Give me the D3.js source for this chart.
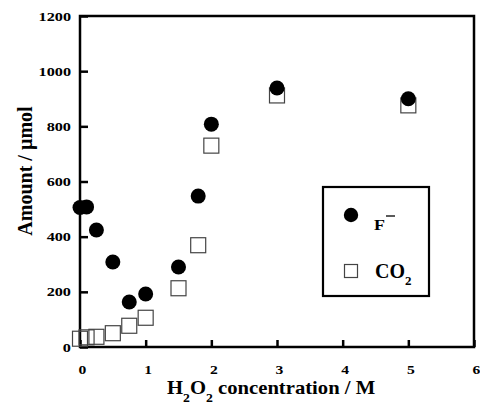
<!DOCTYPE html>
<html>
<head>
<meta charset="utf-8">
<script src="https://cdn.jsdelivr.net/npm/d3@7"></script>
<style>
  body { margin: 0; background: #fff; }
  svg text { font-family: "Liberation Serif", "Times New Roman", serif; font-weight: bold; fill: #000; }
</style>
</head>
<body>
<svg id="chart" width="480" height="405"></svg>
<script>
// H2O2 concentration (M)
const concentration = [0, 0.1, 0.25, 0.5, 0.75, 1.0, 1.5, 1.8, 2.0, 3.0, 5.0];
// amounts (umol)
const fluoride = [506, 508, 424, 308, 163, 192, 290, 547, 808, 939, 900];
const co2 = [30, 35, 37, 50, 77, 106, 213, 369, 730, 912, 876];
const xTicks = [0, 1, 2, 3, 4, 5, 6];
const yTicks = [0, 200, 400, 600, 800, 1000, 1200];

const svg = d3.select('#chart');
const margin = { left: 80, right: 474, top: 16, bottom: 347 };

const x = d3.scaleLinear().domain([0, 6]).range([margin.left, margin.right]);
const y = d3.scaleLinear().domain([0, 1200]).range([margin.bottom, margin.top]);

// y axis ticks (inward)
const yAxis = svg.append('g')
    .attr('transform', `translate(${margin.left},0)`)
    .call(d3.axisLeft(y).tickValues(yTicks).tickSize(-8).tickFormat(d3.format('d')));
yAxis.select('.domain').remove();
yAxis.selectAll('line').attr('stroke', '#000').attr('stroke-width', 2.5);
yAxis.selectAll('text')
    .attr('x', 0).attr('dy', null)
    .attr('transform', 'translate(-9,4) scale(1.3,1)')
    .attr('text-anchor', 'end')
    .style('font-size', '12.5px');

// x axis ticks (inward)
const xAxis = svg.append('g')
    .attr('transform', `translate(0,${margin.bottom})`)
    .call(d3.axisBottom(x).tickValues(xTicks).tickSize(-7).tickFormat(d3.format('d')));
xAxis.select('.domain').remove();
xAxis.selectAll('line').attr('stroke', '#000').attr('stroke-width', 2.5);
xAxis.selectAll('text')
    .attr('y', 0).attr('dy', null)
    .attr('transform', 'translate(2,27) scale(1.25,1)')
    .attr('text-anchor', 'middle')
    .style('font-size', '12.5px');

// frame
svg.append('rect')
    .attr('x', margin.left).attr('y', margin.top)
    .attr('width', margin.right - margin.left)
    .attr('height', margin.bottom - margin.top)
    .attr('fill', 'none').attr('stroke', '#000').attr('stroke-width', 2.5);

// CO2 squares
const sq = 15;
svg.append('g').selectAll('rect')
    .data(concentration)
    .join('rect')
    .attr('x', (d, i) => x(d) - sq / 2)
    .attr('y', (d, i) => y(co2[i]) - sq / 2)
    .attr('width', sq).attr('height', sq)
    .attr('fill', 'none').attr('stroke', '#444').attr('stroke-width', 1.2);

// F- circles
svg.append('g').selectAll('circle')
    .data(concentration)
    .join('circle')
    .attr('cx', d => x(d))
    .attr('cy', (d, i) => y(fluoride[i]))
    .attr('r', 7.5)
    .attr('fill', '#000');

// legend
const lg = svg.append('g');
lg.append('rect')
    .attr('x', 323).attr('y', 187).attr('width', 106).attr('height', 109)
    .attr('fill', '#fff').attr('stroke', '#000').attr('stroke-width', 2.2);
lg.append('circle').attr('cx', 351).attr('cy', 215).attr('r', 7.2).attr('fill', '#000');
lg.append('text')
    .attr('transform', 'translate(374,230) scale(1.2,1)')
    .style('font-size', '15px')
    .text('F');
lg.append('line')
    .attr('x1', 386).attr('x2', 395).attr('y1', 216).attr('y2', 216)
    .attr('stroke', '#000').attr('stroke-width', 1.3);
lg.append('rect')
    .attr('x', 344.5).attr('y', 264.5).attr('width', 13).attr('height', 13)
    .attr('fill', 'none').attr('stroke', '#444').attr('stroke-width', 1.2);
const co2Label = lg.append('text').attr('x', 375).attr('y', 278).style('font-size', '20px');
co2Label.append('tspan').text('CO');
co2Label.append('tspan').attr('dy', 7).style('font-size', '13px').text('2');

// axis titles
const xt = svg.append('text')
    .attr('transform', 'translate(167,394) scale(1.06,1)')
    .style('font-size', '19.5px');
xt.append('tspan').text('H');
xt.append('tspan').attr('dy', 8).style('font-size', '13px').text('2');
xt.append('tspan').attr('dy', -8).text('O');
xt.append('tspan').attr('dy', 8).style('font-size', '13px').text('2');
xt.append('tspan').attr('dy', -8).text(' concentration / M');

svg.append('text')
    .attr('transform', 'translate(32,171) rotate(-90)')
    .attr('text-anchor', 'middle')
    .style('font-size', '20px')
    .text('Amount / µmol');
</script>
</body>
</html>
